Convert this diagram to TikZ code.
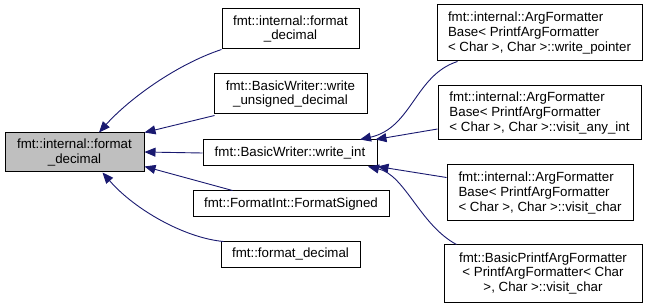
\documentclass[tikz,border=0pt]{standalone}
\usepackage{fontspec}
\setmainfont{Liberation Sans}
\usetikzlibrary{arrows.meta}
\definecolor{edgeblue}{HTML}{191970}
\definecolor{focusgray}{HTML}{BFBFBF}

\begin{document}
\begin{tikzpicture}[x=1pt,y=-1pt,
  box/.style={draw=black, line width=1pt, inner sep=0pt, fill=white,
    font=\fontsize{13.3}{14.6}\selectfont, align=center},
  lbox/.style={box, align=left},
  dep/.style={draw=edgeblue, line width=0.9pt,
    -{Triangle[length=11pt, width=9pt, fill=edgeblue]}}]
\useasboundingbox (0,0) rectangle (648,307);

% function whose callers are shown
\node[box, fill=focusgray, minimum width=139pt, minimum height=39pt] (main) at (74.5,152.5)
  {fmt::internal::format\\\_decimal};

% direct callers
\node[box, minimum width=137pt, minimum height=40pt] (fid) at (290.5,29)
  {fmt::internal::format\\\_decimal};
\node[box, minimum width=153pt, minimum height=40pt] (wud) at (290.5,94)
  {fmt::BasicWriter::write\\\_unsigned\_decimal};
\node[box, minimum width=174pt, minimum height=26pt] (wint) at (290,153)
  {fmt::BasicWriter::write\_int};
\node[box, minimum width=196pt, minimum height=26pt] (fsig) at (291,204)
  {fmt::FormatInt::FormatSigned};
\node[box, minimum width=139pt, minimum height=25pt] (fdec) at (290.5,254.5)
  {fmt::format\_decimal};

% callers of write_int
\node[lbox, minimum width=205pt, minimum height=56pt] (wptr) at (539.5,33)
  {fmt::internal::ArgFormatter\\Base< PrintfArgFormatter\\< Char >, Char >::write\_pointer};
\node[lbox, minimum width=203pt, minimum height=54pt] (vint) at (539.5,113)
  {fmt::internal::ArgFormatter\\Base< PrintfArgFormatter\\< Char >, Char >::visit\_any\_int};
\node[lbox, minimum width=186pt, minimum height=56pt] (vchr) at (540,193)
  {fmt::internal::ArgFormatter\\Base< PrintfArgFormatter\\< Char >, Char >::visit\_char};
\node[box, minimum width=198pt, minimum height=57pt] (bvchr) at (543,273.5)
  {fmt::BasicPrintfArgFormatter\\< PrintfArgFormatter< Char\\>, Char >::visit\_char};

% edges into format_decimal
\draw[dep] (fid.south west) .. controls (175,65) and (128,100) .. ([xshift=24.5pt]main.north);
\draw[dep] ([xshift=1pt,yshift=-1pt]wud.south west) -- (main.north east);
\draw[dep] (wint.west) -- ([yshift=0.5pt]main.east);
\draw[dep] ([xshift=40pt]fsig.north west) -- ([yshift=-14pt]main.east);
\draw[dep] ([xshift=3pt]fdec.north west) .. controls (185,238) and (135,210) .. ([xshift=28pt]main.south);

% edges into write_int
\draw[dep] ([xshift=21pt]wptr.south west) .. controls (415,75) and (412,128) .. ([xshift=70pt]wint.north);
\draw[dep] ([yshift=-16pt]vint.west) -- ([xshift=-2pt]wint.north east);
\draw[dep] ([yshift=-13pt]vchr.north west) -- (wint.south east);
\draw[dep] ([xshift=13pt]bvchr.north west) .. controls (420,225) and (405,175) .. ([xshift=78pt]wint.south);
\end{tikzpicture}
\end{document}
